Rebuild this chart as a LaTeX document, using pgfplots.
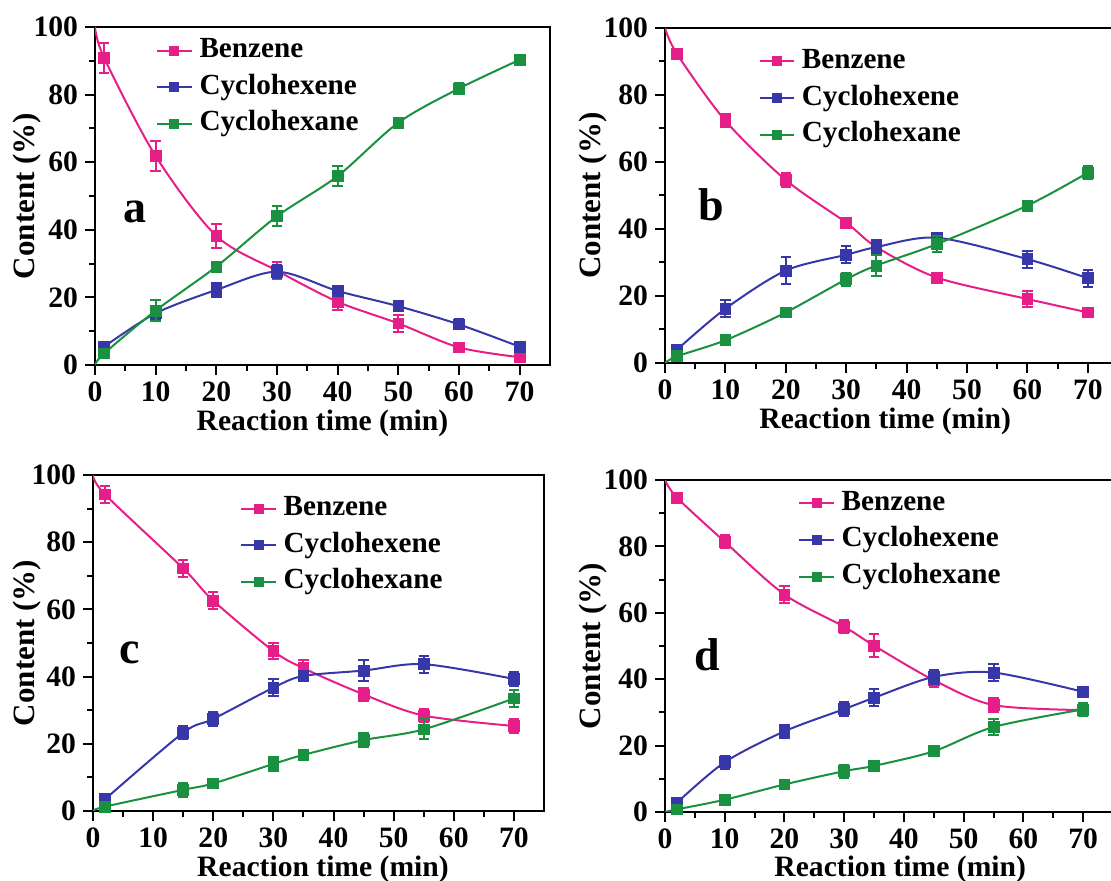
\documentclass[border=0pt]{standalone}
\usepackage{fontspec}
\setmainfont{Liberation Serif}
\usepackage{pgfplots}
\pgfplotsset{compat=1.18}
\usepackage{pgfplotstable}

\definecolor{pinkc}{RGB}{230,30,135}
\definecolor{bluec}{RGB}{55,55,170}
\definecolor{greenc}{RGB}{25,145,65}

% ---- panel a ----
\pgfplotstableread{
x y e
0 100 0
1.5 90.9 4.5
10 61.8 4.4
20 38.2 3.5
30 27.9 2.5
40 18.7 2.5
50 12.3 2.5
60 5.2 1
70 2.3 1
}\aBen
\pgfplotstableread{
x y e
1.5 5.4 1
10 15.3 2
20 22.2 2
30 27.6 2
40 21.9 1.5
50 17.4 1.5
60 12.0 1.5
70 5.4 1.5
}\aHexe
\pgfplotstableread{
x y e
0 0 0
1.5 3.4 1
10 16.1 3
20 29.1 1.5
30 44.0 3
40 55.9 3
50 71.7 1.5
60 81.8 1.5
70 90.3 1
}\aHexa
% ---- panel b ----
\pgfplotstableread{
x y e
0 100 0
2 92.2 1.5
10 72.3 2
20 54.6 2
30 41.9 1.5
35 34.6 2
45 25.5 1
60 19.1 2.5
70 15.1 1
}\bBen
\pgfplotstableread{
x y e
2 4.0 1
10 16.2 2.5
20 27.6 4
30 32.3 2.5
35 34.6 2
45 37.4 1.5
60 31.0 2.5
70 25.3 2.5
}\bHexe
\pgfplotstableread{
x y e
0 0 0
2 2.0 1
10 6.8 1
20 15.1 1
30 25.0 2
35 29.1 3
45 35.5 2.5
60 47.0 1
70 56.8 2
}\bHexa
% ---- panel c ----
\pgfplotstableread{
x y e
0 100 0
2 94.2 2.5
15 72.2 2.5
20 62.6 2.5
30 47.6 2.5
35 42.5 2.5
45 34.7 2
55 28.4 2
70 25.3 2
}\cBen
\pgfplotstableread{
x y e
2 3.5 1
15 23.3 2
20 27.4 2
30 36.7 2.5
35 40.2 1.5
45 41.8 3
55 43.7 2.5
70 39.3 2
}\cHexe
\pgfplotstableread{
x y e
0 0 0
2 1.3 1
15 6.3 2
20 8.2 1
30 14.0 2
35 16.7 1.5
45 21.1 2
55 24.3 3
70 33.5 2.5
}\cHexa
% ---- panel d ----
\pgfplotstableread{
x y e
0 100 0
2 94.7 1
10 81.4 2
20 65.5 2.5
30 55.8 2
35 50.1 3.5
45 39.7 2
55 32.2 2
70 30.7 1
}\dBen
\pgfplotstableread{
x y e
2 2.8 1
10 15.0 2
20 24.3 2
30 31.0 2
35 34.4 2.5
45 40.7 2
55 42.0 2.5
70 36.2 1.5
}\dHexe
\pgfplotstableread{
x y e
0 0 0
2 0.8 0.5
10 3.7 1
20 8.3 1
30 12.3 2
35 13.9 1.5
45 18.3 1
55 25.6 2.5
70 30.9 2
}\dHexa

\newcommand{\series}[3]{%
  \addplot[#1, line width=1pt, smooth, no marks, forget plot] table[x=x,y=y] {#2};
  \addplot[#1, only marks, mark=square*, mark size=2.7pt, forget plot, #3,
    error bars/.cd, y dir=both, y explicit,
    error bar style={line width=1pt},
    error mark options={rotate=90, mark size=2.6pt, line width=1pt}]
    table[x=x,y=y,y error=e] {#2};
}
\newcommand{\legendset}{%
  \addlegendimage{pinkc, line width=1pt, mark=square*, mark size=2pt}
  \addlegendentry{Benzene}
  \addlegendimage{bluec, line width=1pt, mark=square*, mark size=2pt}
  \addlegendentry{Cyclohexene}
  \addlegendimage{greenc, line width=1pt, mark=square*, mark size=2pt}
  \addlegendentry{Cyclohexane}
}

\tikzset{letter/.style={font=\fontsize{23}{25}\selectfont\bfseries, anchor=center}}

\pgfplotsset{
  panel/.style={
    scale only axis,
    xmin=0, xmax=75, ymin=0, ymax=100,
    xtick={0,10,...,70}, ytick={0,20,...,100},
    minor x tick num=1, minor y tick num=1,
    xtick pos=left, ytick pos=left, tick align=outside,
    major tick length=5pt, minor tick length=3pt,
    axis line style={line width=1.2pt},
    every tick/.style={line width=1pt, black},
    tick label style={font=\fontsize{14.8}{16}\selectfont\bfseries},
    /pgf/number format/assume math mode=true,
    xlabel={Reaction time (min)}, ylabel={Content (\%)},
    xlabel style={font=\fontsize{14.8}{17}\selectfont\bfseries, anchor=center},
    ylabel style={font=\fontsize{15.5}{17}\selectfont\bfseries, anchor=center},
    legend cell align=left,
    legend style={draw=none, fill=none, inner sep=0pt, anchor=north west,
      font=\fontsize{14.6}{16}\selectfont\bfseries,
      nodes={inner xsep=3.5pt, inner ysep=0pt, text height=10pt, text depth=3pt},
      row sep=5.3pt},
    clip mode=individual,
  },
}

\begin{document}
\begin{tikzpicture}
\path[use as bounding box] (0,0) rectangle (555.5pt,440.5pt);

% (a)
\begin{axis}[panel, at={(47.5pt,258pt)}, anchor=south west,
  width=227.5pt, height=169pt,
  xlabel style={at={(axis description cs:0.5,-0.172)}},
  ylabel style={at={(axis description cs:-0.149,0.5)}},
  legend style={at={(axis description cs:0.134,0.970)}}]
\legendset
\series{pinkc}{\aBen}{skip coords between index={0}{1}}
\series{bluec}{\aHexe}{}
\series{greenc}{\aHexa}{skip coords between index={0}{1}}
\node[letter] at (rel axis cs:0.088,0.453) {a};
\end{axis}

% (b)
\begin{axis}[panel, at={(332.5pt,259pt)}, anchor=south west,
  width=226.5pt, height=167.5pt,
  xlabel style={at={(axis description cs:0.486,-0.173)}},
  ylabel style={at={(axis description cs:-0.159,0.5)}},
  legend style={at={(axis description cs:0.206,0.940)}}]
\legendset
\series{pinkc}{\bBen}{skip coords between index={0}{1}}
\series{bluec}{\bHexe}{}
\series{greenc}{\bHexa}{skip coords between index={0}{1}}
\node[letter] at (rel axis cs:0.102,0.472) {b};
\end{axis}

% (c)
\begin{axis}[panel, at={(46.5pt,35pt)}, anchor=south west,
  width=225.5pt, height=168pt,
  xlabel style={at={(axis description cs:0.51,-0.174)}},
  ylabel style={at={(axis description cs:-0.146,0.5)}},
  legend style={at={(axis description cs:0.326,0.940)}}]
\legendset
\series{pinkc}{\cBen}{skip coords between index={0}{1}}
\series{bluec}{\cHexe}{}
\series{greenc}{\cHexa}{skip coords between index={0}{1}}
\node[letter] at (rel axis cs:0.082,0.470) {c};
\end{axis}

% (d)
\begin{axis}[panel, at={(332.5pt,34.5pt)}, anchor=south west,
  width=224pt, height=166pt,
  xlabel style={at={(axis description cs:0.525,-0.174)}},
  ylabel style={at={(axis description cs:-0.161,0.5)}},
  legend style={at={(axis description cs:0.297,0.970)}}]
\legendset
\series{pinkc}{\dBen}{skip coords between index={0}{1}}
\series{bluec}{\dHexe}{}
\series{greenc}{\dHexa}{skip coords between index={0}{1}}
\node[letter] at (rel axis cs:0.094,0.473) {d};
\end{axis}
\end{tikzpicture}
\end{document}
